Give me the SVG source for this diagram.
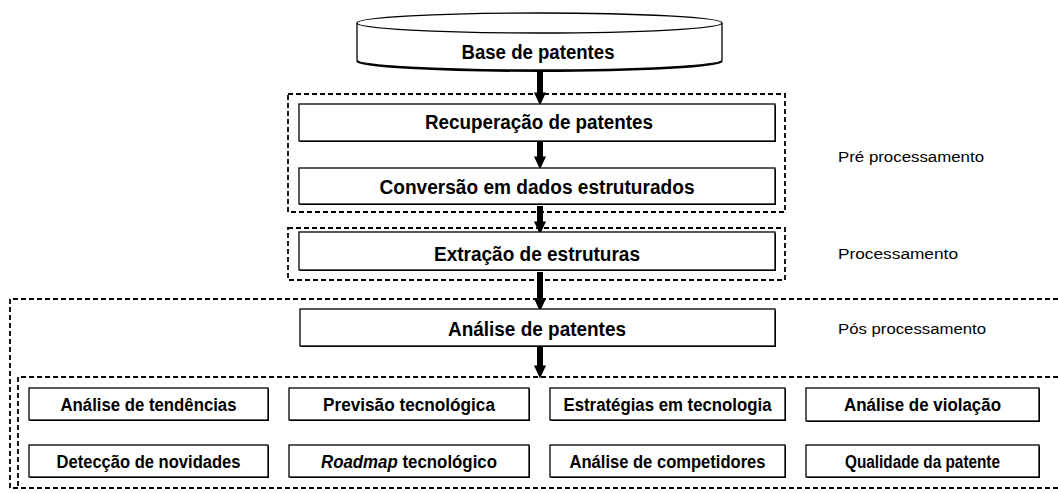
<svg xmlns="http://www.w3.org/2000/svg" width="1058" height="493" viewBox="0 0 1058 493">
<style>
.box{fill:#fff;stroke:#000;stroke-width:1.3}
.sh{fill:#000}
.dash{fill:none;stroke:#000;stroke-width:1.8;stroke-dasharray:5,3}
.t{font-family:"Liberation Sans",Arial,sans-serif;font-weight:bold;fill:#000;text-anchor:middle}
.m{font-size:20px}
.s{font-size:17.5px}
.lab{font-family:"Liberation Sans",Arial,sans-serif;font-size:15.5px;fill:#000}
.arr{stroke:#000;stroke-width:6}
</style>
<defs>
<marker id="ah" markerWidth="2.2" markerHeight="2" refX="1.1" refY="1" orient="auto" markerUnits="strokeWidth" viewBox="0 0 2.2 2">
<path d="M0,0 L2.2,1 L0,2 Z" fill="#000"/>
</marker>
</defs>
<g id="groups">
<rect class="dash" x="288" y="94" width="497" height="118"/>
<rect class="dash" x="288" y="228" width="497" height="52"/>
<path class="dash" d="M1058,299 H10 V488 H1058"/>
<path class="dash" d="M1058,377 H18 V488"/>
</g>
<g id="connectors">
<line class="arr" x1="540" y1="70" x2="540" y2="99" marker-end="url(#ah)"/>
<line class="arr" x1="540" y1="142" x2="540" y2="163" marker-end="url(#ah)"/>
<line class="arr" x1="540" y1="206" x2="540" y2="228" marker-end="url(#ah)"/>
<line class="arr" x1="540" y1="272" x2="540" y2="305" marker-end="url(#ah)"/>
<line class="arr" x1="540" y1="347" x2="540" y2="372" marker-end="url(#ah)"/>
</g>
<g id="base">
<path d="M357,61 A182.5,10 0 0 0 722,61" fill="none" stroke="#000" stroke-width="2"/>
<path class="box" d="M357,23 V60 A182.5,10 0 0 0 722,60 V23"/>
<ellipse class="box" cx="539.5" cy="23" rx="182.5" ry="10"/>
<text class="t m" x="538" y="59" textLength="153" lengthAdjust="spacingAndGlyphs">Base de patentes</text>
</g>
<g id="recuperacao"><rect class="sh" x="300" y="105" width="476" height="37"/><rect class="box" x="299" y="104" width="476" height="37"/><text class="t m" x="539" y="129" textLength="228" lengthAdjust="spacingAndGlyphs">Recuperação de patentes</text></g>
<g id="conversao"><rect class="sh" x="300" y="169" width="476" height="36"/><rect class="box" x="299" y="168" width="476" height="36"/><text class="t m" x="537" y="194" textLength="315" lengthAdjust="spacingAndGlyphs">Conversão em dados estruturados</text></g>
<g id="extracao"><rect class="sh" x="300" y="233" width="476" height="38"/><rect class="box" x="299" y="232" width="476" height="38"/><text class="t m" x="537" y="261" textLength="206" lengthAdjust="spacingAndGlyphs">Extração de estruturas</text></g>
<g id="analise"><rect class="sh" x="301" y="310" width="475" height="37"/><rect class="box" x="300" y="309" width="475" height="37"/><text class="t m" x="537" y="336" textLength="178" lengthAdjust="spacingAndGlyphs">Análise de patentes</text></g>
<g id="labels">
<text class="lab" x="838" y="162" textLength="146" lengthAdjust="spacingAndGlyphs">Pré processamento</text>
<text class="lab" x="838" y="259" textLength="120" lengthAdjust="spacingAndGlyphs">Processamento</text>
<text class="lab" x="838" y="334" textLength="148" lengthAdjust="spacingAndGlyphs">Pós processamento</text>
</g>
<g id="tendencias"><rect class="sh" x="30" y="389" width="239" height="32"/><rect class="box" x="29" y="388" width="239" height="32"/><text class="t s" x="148.5" y="411" textLength="176" lengthAdjust="spacingAndGlyphs">Análise de tendências</text></g>
<g id="previsao"><rect class="sh" x="290" y="389" width="240" height="32"/><rect class="box" x="289" y="388" width="240" height="32"/><text class="t s" x="409" y="411" textLength="172" lengthAdjust="spacingAndGlyphs">Previsão tecnológica</text></g>
<g id="estrategias"><rect class="sh" x="551" y="389" width="235" height="32"/><rect class="box" x="550" y="388" width="235" height="32"/><text class="t s" x="667.5" y="411" textLength="208" lengthAdjust="spacingAndGlyphs">Estratégias em tecnologia</text></g>
<g id="violacao"><rect class="sh" x="807" y="389" width="233" height="33"/><rect class="box" x="806" y="388" width="233" height="33"/><text class="t s" x="922.5" y="411" textLength="157" lengthAdjust="spacingAndGlyphs">Análise de violação</text></g>
<g id="deteccao"><rect class="sh" x="30" y="446" width="239" height="32"/><rect class="box" x="29" y="445" width="239" height="32"/><text class="t s" x="148.5" y="468" textLength="184" lengthAdjust="spacingAndGlyphs">Detecção de novidades</text></g>
<g id="roadmap"><rect class="sh" x="290" y="446" width="240" height="32"/><rect class="box" x="289" y="445" width="240" height="32"/><text class="t s" x="409" y="468" textLength="176" lengthAdjust="spacingAndGlyphs"><tspan font-style="italic">Roadmap</tspan> tecnológico</text></g>
<g id="competidores"><rect class="sh" x="551" y="446" width="235" height="32"/><rect class="box" x="550" y="445" width="235" height="32"/><text class="t s" x="667.5" y="468" textLength="196" lengthAdjust="spacingAndGlyphs">Análise de competidores</text></g>
<g id="qualidade"><rect class="sh" x="807" y="446" width="233" height="32"/><rect class="box" x="806" y="445" width="233" height="32"/><text class="t s" x="922.5" y="468" textLength="155" lengthAdjust="spacingAndGlyphs">Qualidade da patente</text></g>
</svg>
